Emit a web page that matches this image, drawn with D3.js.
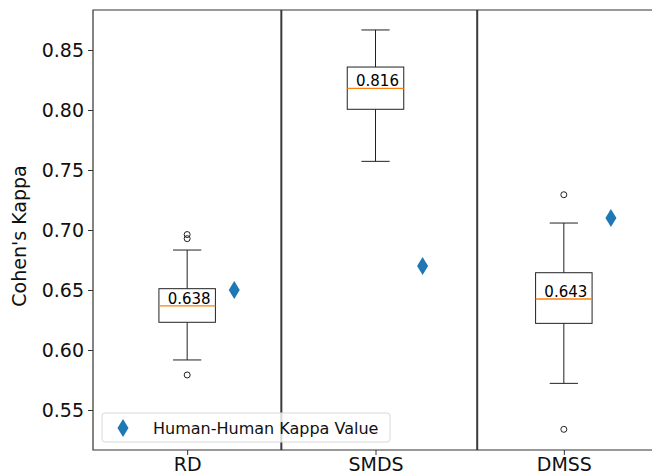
<!DOCTYPE html>
<html>
<head>
<meta charset="utf-8">
<script src="https://cdn.jsdelivr.net/npm/d3@7"></script>
<style>
  body { margin: 0; background: #fff; }
  svg { font-family: "DejaVu Sans", sans-serif; display: block; }
</style>
</head>
<body>
<div id="chart"></div>
<script>
/* DATA */
const categories = ["RD", "SMDS", "DMSS"]
const q1 = [0.6231, 0.8006, 0.6222]
const medians = [0.6367, 0.8181, 0.6425]
const q3 = [0.6511, 0.8358, 0.6644]
const whiskerLow = [0.5917, 0.7572, 0.5722]
const whiskerHigh = [0.6833, 0.8667, 0.7058]
const outliers = [[0.5792, 0.6928, 0.6962], [], [0.5339, 0.7294]]
const labels = ["0.638", "0.816", "0.643"]
const humanKappa = [0.650, 0.670, 0.710]
const yTicks = [0.55, 0.60, 0.65, 0.70, 0.75, 0.80, 0.85]
const separators = [1.5, 2.54]

/* CONSTANTS */
const width = 652, height = 475
const margin = { top: 10, bottom: 25, left: 93, right: -6 }

const svg = d3.select("#chart")
  .append("svg")
  .attr("width", width)
  .attr("height", height)

//scales
const xScale = d3.scaleLinear()
  .domain([0.5, 3.5])
  .range([margin.left, width - margin.right])

const yScale = d3.scaleLinear()
  .domain([0.51667, 0.88333])
  .range([height - margin.bottom, margin.top])

const boxW = 0.3, capW = 0.15, offset = 0.25
const blue = "#1f77b4", orange = "#ff7f0e", ink = "#222"

// thin diamond marker
const diamond = (w, h) => `M0,${-h/2}L${w/2},0L0,${h/2}L${-w/2},0Z`

//separators
svg.selectAll(".sep")
  .data(separators)
  .join("line")
  .attr("class", "sep")
  .attr("x1", d => xScale(d)).attr("x2", d => xScale(d))
  .attr("y1", margin.top).attr("y2", height - margin.bottom)
  .attr("stroke", "#3a3a3a")
  .attr("stroke-width", 2)

//boxes
const g = svg.selectAll(".box")
  .data(categories)
  .join("g")
  .attr("class", "box")

g.append("line")
  .attr("x1", (d, i) => xScale(i + 1)).attr("x2", (d, i) => xScale(i + 1))
  .attr("y1", (d, i) => yScale(whiskerLow[i])).attr("y2", (d, i) => yScale(q1[i]))
  .attr("stroke", ink)
g.append("line")
  .attr("x1", (d, i) => xScale(i + 1)).attr("x2", (d, i) => xScale(i + 1))
  .attr("y1", (d, i) => yScale(q3[i])).attr("y2", (d, i) => yScale(whiskerHigh[i]))
  .attr("stroke", ink)
g.append("line")
  .attr("x1", (d, i) => xScale(i + 1 - capW / 2)).attr("x2", (d, i) => xScale(i + 1 + capW / 2))
  .attr("y1", (d, i) => yScale(whiskerLow[i])).attr("y2", (d, i) => yScale(whiskerLow[i]))
  .attr("stroke", ink)
g.append("line")
  .attr("x1", (d, i) => xScale(i + 1 - capW / 2)).attr("x2", (d, i) => xScale(i + 1 + capW / 2))
  .attr("y1", (d, i) => yScale(whiskerHigh[i])).attr("y2", (d, i) => yScale(whiskerHigh[i]))
  .attr("stroke", ink)
g.append("rect")
  .attr("x", (d, i) => xScale(i + 1 - boxW / 2))
  .attr("width", xScale(boxW) - xScale(0))
  .attr("y", (d, i) => yScale(q3[i]))
  .attr("height", (d, i) => yScale(q1[i]) - yScale(q3[i]))
  .attr("fill", "none")
  .attr("stroke", ink)
g.append("line")
  .attr("x1", (d, i) => xScale(i + 1 - boxW / 2)).attr("x2", (d, i) => xScale(i + 1 + boxW / 2))
  .attr("y1", (d, i) => yScale(medians[i])).attr("y2", (d, i) => yScale(medians[i]))
  .attr("stroke", orange)
  .attr("stroke-width", 1.3)

//outliers
g.selectAll(".flier")
  .data((d, i) => outliers[i].map(v => ({ i, v })))
  .join("circle")
  .attr("class", "flier")
  .attr("cx", d => xScale(d.i + 1))
  .attr("cy", d => yScale(d.v))
  .attr("r", 3)
  .attr("fill", "none")
  .attr("stroke", ink)

//median labels
g.append("text")
  .attr("x", (d, i) => xScale(i + 1) + 2)
  .attr("y", (d, i) => yScale(medians[i]) - 2)
  .attr("text-anchor", "middle")
  .attr("font-size", "15px")
  .attr("fill", "#000")
  .text((d, i) => labels[i])

//human-human kappa
svg.selectAll(".hh")
  .data(humanKappa)
  .join("path")
  .attr("class", "hh")
  .attr("d", diamond(11, 18))
  .attr("transform", (d, i) => `translate(${xScale(i + 1 + offset)},${yScale(d)})`)
  .attr("fill", blue)

//axes
const yAxis = d3.axisLeft(yScale)
  .tickValues(yTicks)
  .tickFormat(d3.format(".2f"))
  .tickSize(5)
  .tickPadding(4)

svg.append("g")
  .attr("class", "y-axis")
  .attr("transform", `translate(${margin.left},0)`)
  .call(yAxis)

const xAxis = d3.axisBottom(xScale)
  .tickValues([1, 2, 3])
  .tickFormat((d, i) => categories[i])
  .tickSize(5)
  .tickPadding(3)

svg.append("g")
  .attr("class", "x-axis")
  .attr("transform", `translate(0,${height - margin.bottom})`)
  .call(xAxis)

svg.selectAll(".y-axis, .x-axis")
  .attr("font-size", "19px")
  .attr("font-family", "DejaVu Sans, sans-serif")
svg.selectAll(".domain").remove()
svg.selectAll(".tick line").attr("stroke", "#333")
svg.selectAll(".tick text").attr("fill", "#111")

//frame
svg.append("path")
  .attr("d", `M${width + 2},${margin.top}H${margin.left}V${height - margin.bottom}H${width + 2}`)
  .attr("fill", "none")
  .attr("stroke", "#333")
  .attr("stroke-width", 1.2)

svg.append("text")
  .attr("transform", `translate(26,${(margin.top + height - margin.bottom) / 2 + 6}) rotate(-90)`)
  .attr("text-anchor", "middle")
  .attr("font-size", "19px")
  .attr("fill", "#111")
  .text("Cohen's Kappa")

//legend
const legend = svg.append("g")
  .attr("transform", "translate(102,413)")
legend.append("rect")
  .attr("width", 288).attr("height", 29)
  .attr("rx", 3)
  .attr("fill", "#fff").attr("fill-opacity", 0.8)
  .attr("stroke", "#d8d8d8")
legend.append("path")
  .attr("d", diamond(11, 18))
  .attr("transform", "translate(21,15)")
  .attr("fill", blue)
legend.append("text")
  .attr("x", 51).attr("y", 21)
  .attr("font-size", "16px")
  .attr("fill", "#111")
  .text("Human-Human Kappa Value")
</script>
</body>
</html>
